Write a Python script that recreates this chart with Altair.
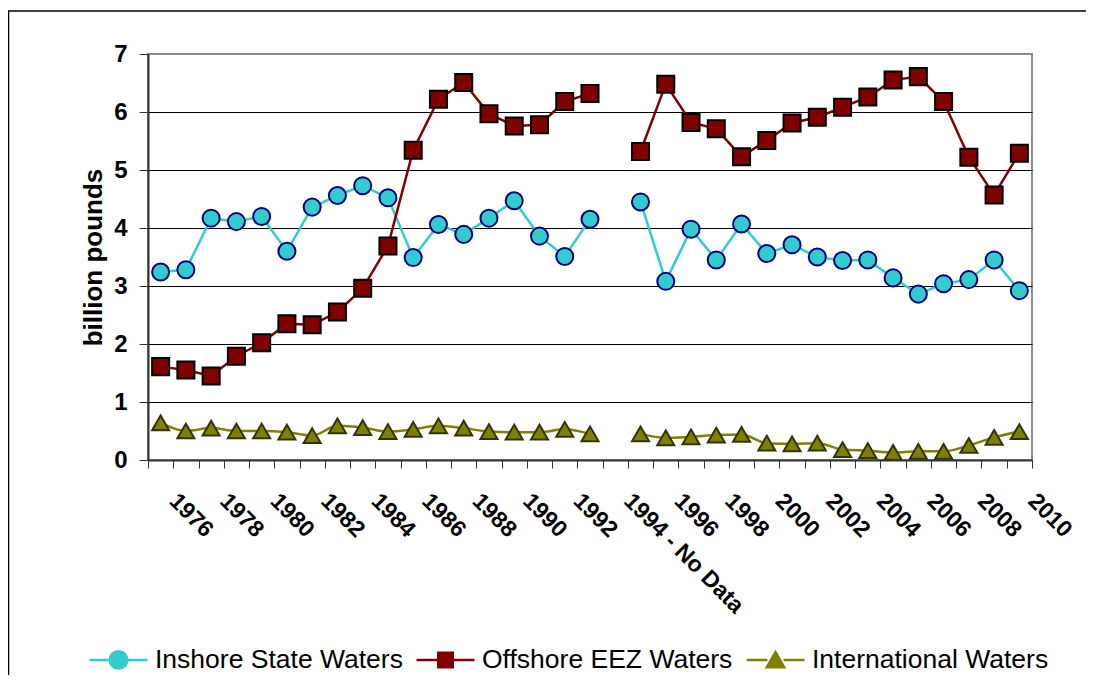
import altair as alt
import pandas as pd

years = list(range(1976, 2011))
categories = [("1994 - No Data" if y == 1994 else str(y)) for y in years]

series_names = ["Inshore State Waters", "Offshore EEZ Waters", "International Waters"]

inshore = [3.24, 3.28, 4.17, 4.11, 4.20, 3.60, 4.36, 4.56, 4.73, 4.52, 3.49, 4.06,
           3.89, 4.17, 4.47, 3.86, 3.51, 4.15, None, 4.45, 3.08, 3.98, 3.45, 4.07,
           3.56, 3.71, 3.50, 3.44, 3.45, 3.14, 2.86, 3.04, 3.11, 3.45, 2.92]
offshore = [1.61, 1.55, 1.45, 1.79, 2.02, 2.35, 2.33, 2.55, 2.96, 3.69, 5.34, 6.22,
            6.51, 5.97, 5.76, 5.78, 6.18, 6.32, None, 5.32, 6.48, 5.82, 5.71, 5.23,
            5.51, 5.81, 5.91, 6.08, 6.26, 6.55, 6.61, 6.18, 5.22, 4.57, 5.29]
international = [0.64, 0.50, 0.55, 0.50, 0.50, 0.48, 0.42, 0.59, 0.56, 0.49, 0.53, 0.59,
                 0.55, 0.49, 0.48, 0.48, 0.53, 0.45, None, 0.45, 0.38, 0.40, 0.43, 0.44,
                 0.29, 0.28, 0.29, 0.18, 0.16, 0.13, 0.15, 0.15, 0.25, 0.39, 0.49]

line_colors = ["#33CCCC", "#800000", "#808000"]
fill_colors = ["#33CCCC", "#800000", "#808000"]
edge_colors = ["#000080", "#000000", "#333300"]
shapes = ["circle", "square", "triangle-up"]
legend_shapes = [
    "M-1,0H-0.3M0.3,0H1M-0.3,0A0.3,0.3 0 1,1 0.3,0A0.3,0.3 0 1,1 -0.3,0Z",
    "M-1,0H-0.25M0.25,0H1M-0.25,-0.25H0.25V0.25H-0.25Z",
    "M-1,0H-0.28M0.28,0H1M0,-0.27L0.3,0.25H-0.3Z",
]

rows = []
for name, vals in zip(series_names, [inshore, offshore, international]):
    for y, c, v in zip(years, categories, vals):
        if v is None:
            continue
        rows.append({"cat": c, "series": name, "value": v,
                     "period": "a" if y < 1994 else "b"})
df = pd.DataFrame(rows)
legend_df = pd.DataFrame({"series": series_names})

FONT = "Liberation Sans, Arial"
W, H = 884, 406

x_enc = alt.X("cat:O", sort=categories,
              scale=alt.Scale(domain=categories, type="band", paddingInner=0, paddingOuter=0),
              axis=alt.Axis(title=None, tickBand="extent", labelAngle=45, labelAlign="left",
                            labelBaseline="middle", labelPadding=29, labelOffset=12,
                            labelExpr="parseInt(datum.label) % 2 == 0 ? datum.label : ''",
                            labelFont=FONT, labelFontSize=23, labelFontWeight="bold",
                            labelColor="black", labelOverlap=False, labelBound=False,
                            labelLimit=400,
                            tickSize=8, tickColor="#333333", tickWidth=1,
                            domainColor="#333333", domainWidth=2, grid=False))
y_enc = alt.Y("value:Q",
              scale=alt.Scale(domain=[0, 7], nice=False, zero=True),
              axis=alt.Axis(title="billion pounds", values=[0, 1, 2, 3, 4, 5, 6, 7],
                            labelFont=FONT, labelFontSize=24, labelFontWeight="bold",
                            labelColor="black", labelPadding=12,
                            titleFont=FONT, titleFontSize=26, titleFontWeight="bold",
                            titleColor="black", titlePadding=7,
                            tickSize=9, tickColor="#333333", tickWidth=1,
                            domainColor="#333333", domainWidth=2,
                            grid=True,
                            gridColor={"condition": {"test": "datum.value == 7", "value": "#8C8C8C"},
                                       "value": "#000000"},
                            gridWidth=1))

color_scale = alt.Scale(domain=series_names, range=line_colors)
base = alt.Chart(df)

lines_straight = base.transform_filter(
    alt.datum.series != "International Waters"
).mark_line(strokeWidth=2.5).encode(
    x=x_enc, y=y_enc,
    color=alt.Color("series:N", scale=color_scale, legend=None),
    detail="period:N",
)
lines_smooth = base.transform_filter(
    alt.datum.series == "International Waters"
).mark_line(strokeWidth=2.5, interpolate="monotone").encode(
    x=x_enc, y=y_enc,
    color=alt.Color("series:N", scale=color_scale, legend=None),
    detail="period:N",
)
points = base.mark_point(filled=True, opacity=1, strokeWidth=2, size=290).encode(
    x=x_enc, y=y_enc,
    shape=alt.Shape("series:N", scale=alt.Scale(domain=series_names, range=shapes), legend=None),
    fill=alt.Fill("series:N", scale=alt.Scale(domain=series_names, range=fill_colors), legend=None),
    stroke=alt.Stroke("series:N", scale=alt.Scale(domain=series_names, range=edge_colors), legend=None),
)

legend = alt.Legend(orient="none", legendX=-60, legendY=575, direction="horizontal",
                    title=None, labelFont=FONT, labelFontSize=26.5, labelColor="black",
                    labelLimit=500, labelOffset=6, columnPadding=8,
                    symbolSize=3364, symbolStrokeWidth=2.5, symbolOpacity=1)

legend_layer = alt.Chart(legend_df).mark_point(filled=True, opacity=0, size=0).encode(
    shape=alt.Shape("series:N", scale=alt.Scale(domain=series_names, range=legend_shapes),
                    legend=legend, sort=series_names),
    fill=alt.Fill("series:N", scale=alt.Scale(domain=series_names, range=fill_colors),
                  legend=legend, sort=series_names),
    stroke=alt.Stroke("series:N", scale=alt.Scale(domain=series_names, range=line_colors),
                      legend=legend, sort=series_names),
)

border_top = alt.Chart(pd.DataFrame({"k": [0]})).mark_rule(color="black", strokeWidth=1.5).encode(
    x=alt.value(-140), x2=alt.value(W + 54), y=alt.value(-43))
border_left = alt.Chart(pd.DataFrame({"k": [0]})).mark_rule(color="black", strokeWidth=1.5).encode(
    x=alt.value(-139.5), y=alt.value(-43), y2=alt.value(H + 240))

chart = alt.layer(border_top, border_left, lines_straight, lines_smooth, points, legend_layer).resolve_scale(
    shape="independent", fill="independent", stroke="independent"
).properties(
    width=W, height=H,
    padding={"left": 140, "top": 46, "right": 54, "bottom": 215},
    autosize=alt.AutoSizeParams(type="none"),
    background="white",
).configure_view(
    stroke="#8C8C8C", strokeWidth=2
)

chart.save("out.html", embed_options={"renderer": "svg", "actions": False})
